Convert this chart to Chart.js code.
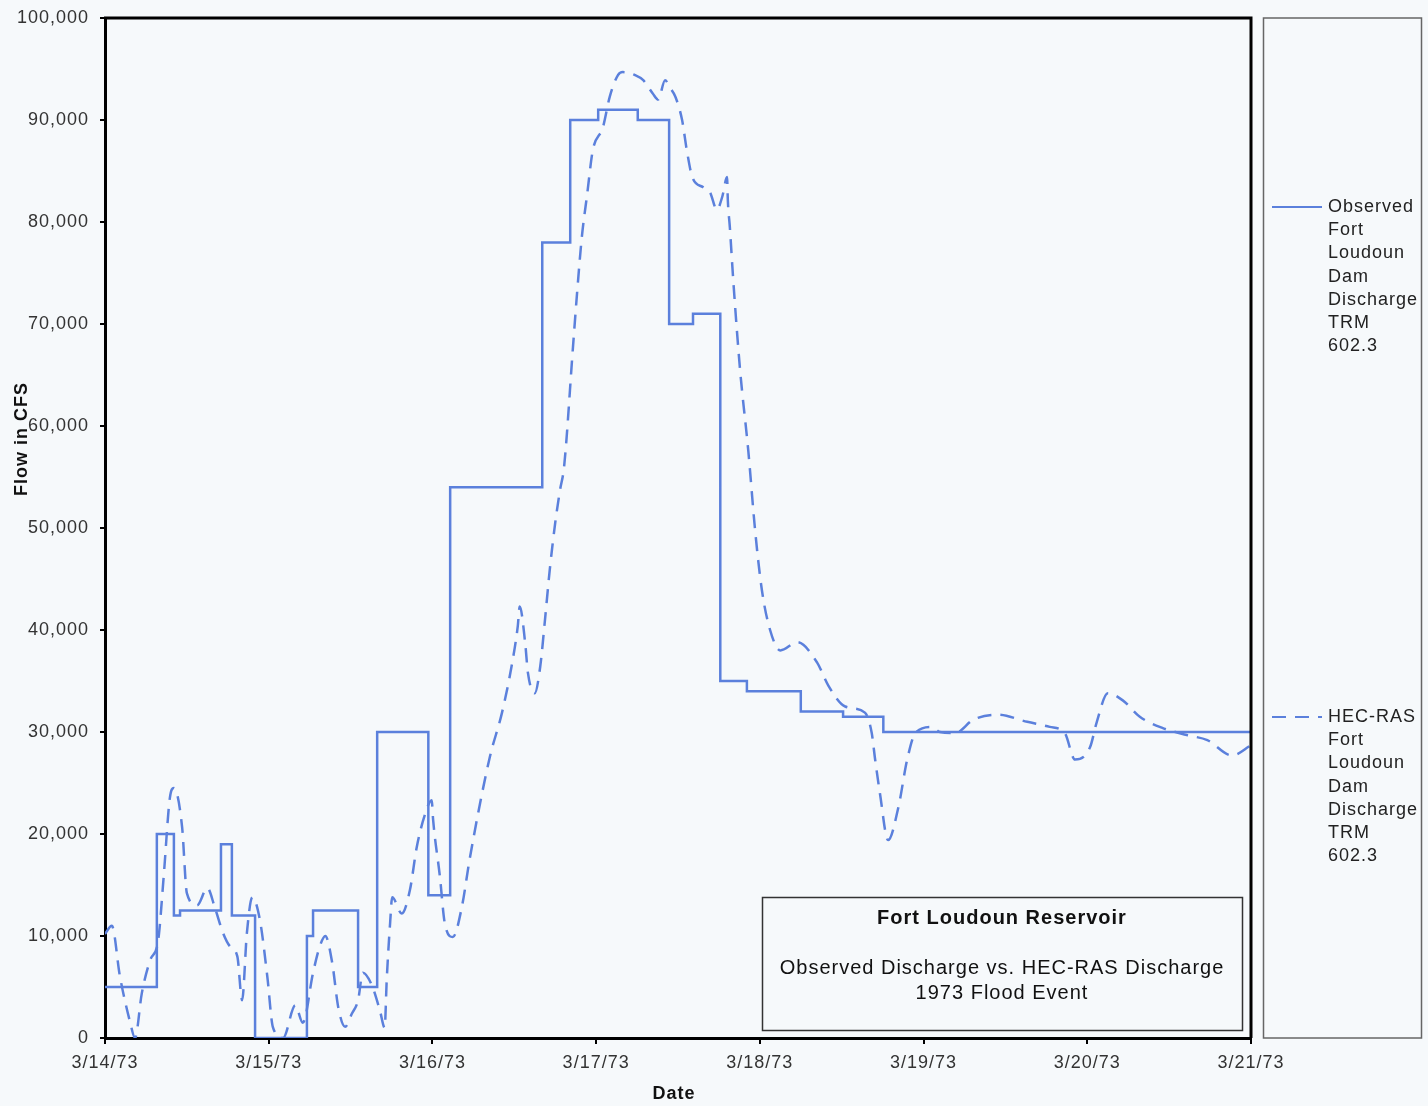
<!DOCTYPE html>
<html>
<head>
<meta charset="utf-8">
<title>Fort Loudoun Reservoir</title>
<script src="https://cdn.jsdelivr.net/npm/chart.js@4.4.1/dist/chart.umd.min.js"></script>
<style>
  html, body { margin: 0; padding: 0; background: #f6f9fb; }
  #wrap { width: 1428px; height: 1106px; }
</style>
</head>
<body>
<div id="wrap"><canvas id="chart" width="1428" height="1106"></canvas></div>
<script>
// x positions are hours after 3/14/73 00:00
var dateLabels = ['3/14/73', '3/15/73', '3/16/73', '3/17/73', '3/18/73', '3/19/73', '3/20/73', '3/21/73'];

var observedHours = [0, 7.6, 10.1, 11.0, 17.0, 18.6, 22.0, 29.6, 30.5, 37.1, 39.9, 47.4, 50.6,
  64.1, 68.2, 72.3, 78.1, 82.7, 86.2, 90.2, 94.1, 102.0, 108.2, 114.1, 168];
var observedFlow = [5000, 20000, 12000, 12500, 19000, 12000, 0, 10000, 12500, 5000, 30000, 14000, 54000,
  78000, 90000, 91000, 90000, 70000, 71000, 35000, 34000, 32000, 31500, 30000, 30000];

var hecrasHours = [0, 1.0, 2.2, 3.7, 4.4, 5.4, 6.6, 7.8, 8.6, 9.5, 10.1, 11.3, 12.0, 13.5, 15.0, 16.1,
  17.3, 18.3, 19.4, 20.1, 20.8, 21.6, 22.7, 23.8, 24.6, 26.1, 27.9, 29.0, 30.5, 31.5, 32.3, 33.3,
  34.2, 35.2, 36.2, 37.1, 37.8, 39.1, 40.3, 41.0, 41.3, 41.8, 42.1, 43.5, 44.7, 45.7, 46.9, 47.9,
  48.1, 49.1, 49.8, 51.0, 52.3, 53.5, 56.4, 58.2, 59.7, 60.5, 60.8, 61.6, 62.0, 63.0, 63.8, 64.5,
  65.2, 66.0, 66.7, 67.3, 68.6, 69.2, 69.9, 70.7, 71.5, 73.0, 74.0, 75.2, 75.9, 77.7, 78.9, 80.3,
  81.1, 82.1, 82.8, 83.6, 84.6, 85.3, 86.1, 87.7, 88.7, 89.7, 90.5, 91.2, 91.3, 91.6, 92.1, 93.1,
  94.3, 95.3, 96.3, 97.5, 99.0, 101.5, 104.4, 106.0, 108.5, 111.4, 112.4, 112.9, 113.6, 114.8,
  116.3, 117.6, 118.8, 121.2, 122.4, 124.6, 127.3, 130.8, 135.2, 138.5, 140.7, 142.2, 144.4,
  145.4, 147.0, 149.2, 151.7, 155.0, 158.6, 161.6, 165.2, 168];
var hecrasFlow = [10200, 11000, 6000, 1500, 0, 4400, 7600, 9600, 15800, 23500, 24500, 20700, 14200,
  13000, 14700, 12800, 10300, 9000, 8000, 3700, 10300, 13800, 11600, 6000, 1100, 0, 3200, 1500,
  6400, 9000, 10000, 7400, 3000, 1100, 2400, 3700, 6400, 5200, 2700, 1000, 5700, 11300, 13800,
  12200, 14500, 18700, 21900, 23300, 21400, 15800, 11300, 9900, 12800, 17700, 27500, 31900, 36800,
  40300, 42300, 38700, 35800, 33800, 36400, 41000, 45900, 50500, 53700, 56000, 67700, 73000, 78500,
  82800, 87000, 89300, 92300, 94400, 94700, 94400, 93900, 92600, 92000, 93900, 93200, 92300, 90000,
  87000, 84400, 83400, 82900, 81200, 82500, 84400, 82200, 79500, 74300, 65500, 57600, 49800, 43900,
  40000, 38000, 38800, 36800, 34600, 32500, 31900, 29900, 27300, 24000, 19400, 22600, 27300, 29900,
  30500, 30000, 29900, 31200, 31700, 31000, 30500, 29900, 27300, 28500, 31000, 33800, 33100, 31500,
  30400, 29700, 29200, 27700, 28700];

var seriesNames = [
  ['Observed', 'Fort', 'Loudoun', 'Dam', 'Discharge', 'TRM', '602.3'],
  ['HEC-RAS', 'Fort', 'Loudoun', 'Dam', 'Discharge', 'TRM', '602.3']
];
var boxTitle = 'Fort Loudoun Reservoir';
var boxLines = ['Observed Discharge vs. HEC-RAS Discharge', '1973 Flood Event'];

var lineColor = '#5b80dc';
var FONT = '"Liberation Sans", Arial, sans-serif';

function toPoints(xs, ys) {
  return xs.map(function(x, i) { return {x: x, y: ys[i]}; });
}

// frame, axis titles, legend column and the note box
var decorations = {
  id: 'decorations',
  beforeDraw: function(chart) {
    chart.ctx.letterSpacing = '1px';
  },
  afterDraw: function(chart) {
    var ctx = chart.ctx;
    var a = chart.chartArea;
    ctx.save();
    ctx.letterSpacing = '1px';

    // top and right edges of the plot frame
    ctx.strokeStyle = '#000';
    ctx.lineWidth = 3;
    ctx.beginPath();
    ctx.moveTo(a.left - 1, a.top);
    ctx.lineTo(a.right, a.top);
    ctx.lineTo(a.right, a.bottom);
    ctx.stroke();

    // axis titles
    ctx.fillStyle = '#111';
    ctx.font = 'bold 18px ' + FONT;
    ctx.textAlign = 'center';
    ctx.textBaseline = 'middle';
    ctx.fillText('Date', 674, 1094);
    ctx.save();
    ctx.translate(22, 439);
    ctx.rotate(-Math.PI / 2);
    ctx.fillText('Flow in CFS', 0, 0);
    ctx.restore();

    // legend column
    ctx.strokeStyle = '#666';
    ctx.lineWidth = 1.5;
    ctx.strokeRect(1263.5, a.top, 158, a.bottom - a.top);
    var entryTop = [207, 717];
    ctx.font = '18px ' + FONT;
    ctx.textAlign = 'left';
    chart.data.datasets.forEach(function(ds, i) {
      var y0 = entryTop[i];
      ctx.save();
      ctx.strokeStyle = ds.borderColor;
      ctx.lineWidth = 2;
      ctx.setLineDash(ds.borderDash || []);
      ctx.beginPath();
      ctx.moveTo(1272, y0);
      ctx.lineTo(1322, y0);
      ctx.stroke();
      ctx.restore();
      ctx.fillStyle = '#222';
      seriesNames[i].forEach(function(t, k) {
        ctx.fillText(t, 1328, y0 + k * 23.2);
      });
    });

    // note box
    ctx.strokeStyle = '#333';
    ctx.lineWidth = 1.5;
    ctx.strokeRect(762.5, 897.5, 480, 133);
    ctx.fillStyle = '#111';
    ctx.textAlign = 'center';
    ctx.font = 'bold 20px ' + FONT;
    ctx.fillText(boxTitle, 1002, 918);
    ctx.font = '20px ' + FONT;
    ctx.fillText(boxLines[0], 1002, 968);
    ctx.fillText(boxLines[1], 1002, 993);
    ctx.restore();
  }
};

var ctx = document.getElementById('chart').getContext('2d');
var chart = new Chart(ctx, {
  type: 'line',
  data: {
    datasets: [{
      label: seriesNames[0].join(' '),
      data: toPoints(observedHours, observedFlow),
      borderColor: lineColor,
      borderWidth: 2.5,
      stepped: true,
      pointRadius: 0,
      fill: false
    }, {
      label: seriesNames[1].join(' '),
      data: toPoints(hecrasHours, hecrasFlow),
      borderColor: lineColor,
      borderWidth: 2.5,
      borderDash: [14, 9],
      cubicInterpolationMode: 'monotone',
      pointRadius: 0,
      fill: false
    }]
  },
  options: {
    responsive: false,
    animation: false,
    devicePixelRatio: 1,
    layout: { padding: { top: 18, right: 177, bottom: 0, left: 0 } },
    plugins: {
      legend: { display: false },
      tooltip: { enabled: false }
    },
    scales: {
      x: {
        type: 'linear',
        min: 0,
        max: 168,
        afterFit: function(scale) { scale.height = 68; },
        border: { color: '#000', width: 3 },
        grid: { display: true, drawOnChartArea: false, drawTicks: true, tickLength: 6, color: '#000', lineWidth: 2 },
        ticks: {
          stepSize: 24,
          autoSkip: false,
          maxRotation: 0,
          padding: 8,
          color: '#333',
          font: { family: FONT, size: 18 },
          callback: function(v) { return dateLabels[v / 24]; }
        }
      },
      y: {
        min: 0,
        max: 100000,
        afterFit: function(scale) {
          scale.width = 105;
          scale.paddingTop = 0;
          scale.paddingBottom = 0;
        },
        border: { color: '#000', width: 3 },
        grid: { display: true, drawOnChartArea: false, drawTicks: true, tickLength: 5, color: '#000', lineWidth: 2 },
        ticks: {
          stepSize: 10000,
          padding: 11,
          color: '#333',
          font: { family: FONT, size: 18 },
          callback: function(v) { return v.toLocaleString('en-US'); }
        }
      }
    }
  },
  plugins: [decorations]
});
</script>
</body>
</html>
